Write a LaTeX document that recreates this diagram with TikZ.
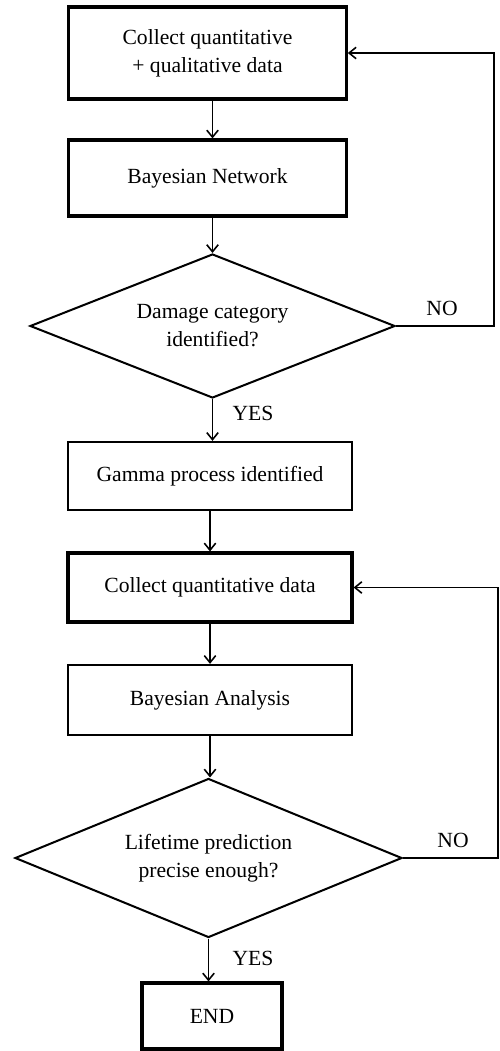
\documentclass[tikz,border=0pt]{standalone}
\usepackage{fontspec}
\setmainfont{Liberation Serif}
\usetikzlibrary{shapes.geometric, arrows.meta}

\begin{document}
\begin{tikzpicture}[>={Straight Barb[length=4pt, width=6.5pt]},
  every node/.style={font=\fontsize{12.3}{16}\selectfont},
  stepbox/.style={rectangle, draw, line width=1.8pt, align=center, inner sep=0pt},
  thinbox/.style={stepbox, line width=1.3pt},
  query/.style={diamond, draw, line width=1.15pt, align=center, aspect=2.5, inner sep=0pt},
  flow/.style={->, line width=0.9pt}]
\useasboundingbox (0,0) rectangle (10,-21.02);

\node[stepbox, minimum width=5.55cm, minimum height=1.84cm] (collect) at (4.15,-1.06) {Collect quantitative\\+ qualitative data};
\node[stepbox, minimum width=5.55cm, minimum height=1.52cm] (network) at (4.15,-3.56) {Bayesian Network};
\node[query, minimum width=7.3cm, minimum height=2.88cm] (damage) at (4.25,-6.52) {Damage category\\identified?};
\node[thinbox, minimum width=5.68cm, minimum height=1.36cm] (gamma) at (4.2,-9.52) {Gamma process identified};
\node[stepbox, minimum width=5.68cm, minimum height=1.38cm] (quant) at (4.2,-11.75) {Collect quantitative data};
\node[thinbox, minimum width=5.68cm, minimum height=1.4cm] (analysis) at (4.2,-14.0) {Bayesian Analysis};
\node[query, minimum width=7.74cm, minimum height=3.18cm] (precise) at (4.17,-17.16) {Lifetime prediction\\precise enough?};
\node[stepbox, minimum width=2.8cm, minimum height=1.32cm] (end) at (4.24,-20.32) {END};

\node (no1) at (8.84,-6.16) {NO};
\node (yes1) at (5.06,-8.26) {YES};
\node (no2) at (9.06,-16.8) {NO};
\node (yes2) at (5.06,-19.16) {YES};

\coordinate (back1) at (9.88,-1.06);
\coordinate (back2) at (9.96,-11.75);

\draw[flow] (collect.south -| damage.north) -- (damage.north |- network.north);
\draw[flow] (network.south -| damage.north) -- (damage.north);
\draw[flow] (damage.south) -- (damage.south |- gamma.north);
\draw[flow] (gamma.south) -- (quant.north);
\draw[flow] (quant.south) -- (analysis.north);
\draw[flow] (analysis.south) -- (analysis.south |- precise.north);
\draw[flow] (precise.south) -- (precise.south |- end.north);

\draw[flow] (damage.east) -| (back1) -- (collect.east);
\draw[flow] (precise.east) -| (back2) -- (quant.east);
\end{tikzpicture}
\end{document}
